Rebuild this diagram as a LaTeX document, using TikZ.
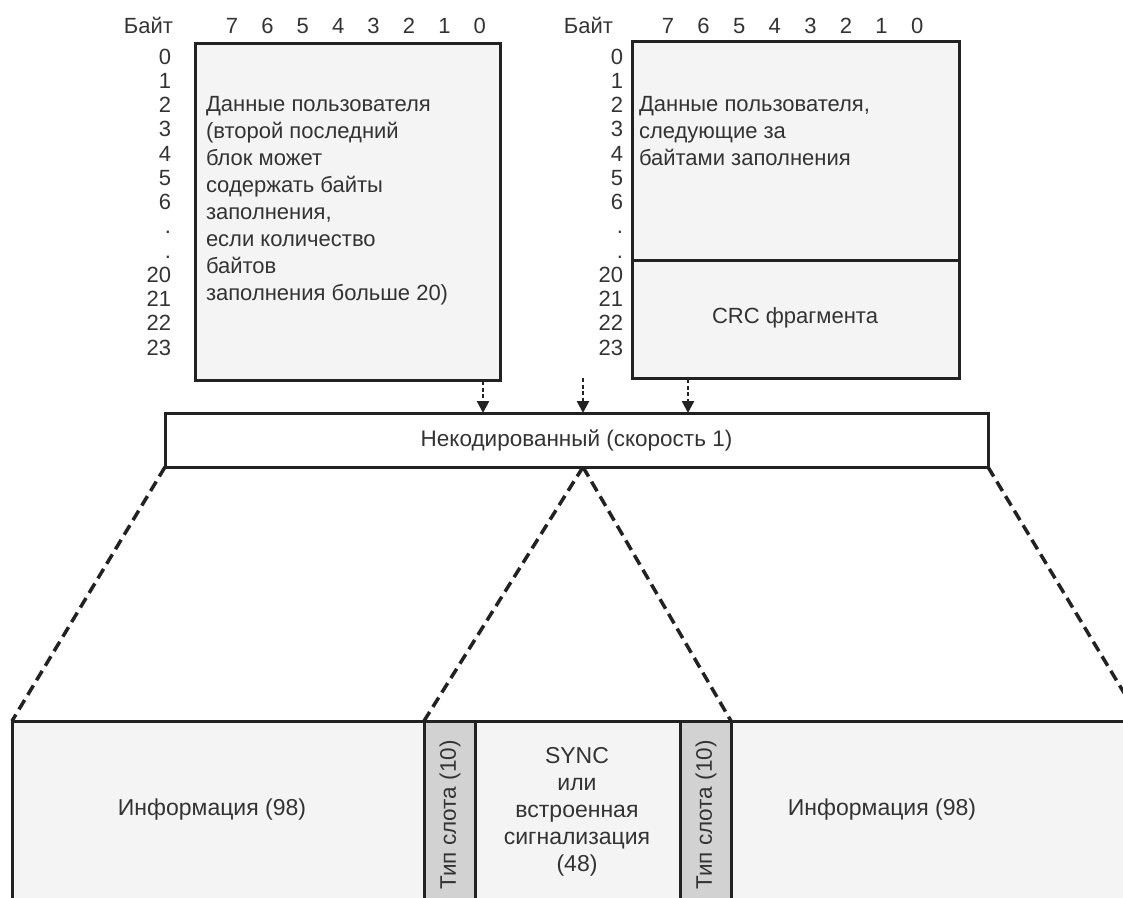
\documentclass[tikz,border=0pt]{standalone}
\usepackage{fontspec}
\setmainfont{Liberation Sans}
\usetikzlibrary{arrows.meta}
\definecolor{ink}{HTML}{222222}
\definecolor{txt}{HTML}{333333}
\definecolor{boxfill}{HTML}{F4F4F4}
\definecolor{slotfill}{HTML}{D2D2D2}
\tikzset{
  box/.style={draw=ink, line width=3pt, fill=boxfill, inner sep=0pt, outer sep=0pt, anchor=north west},
  slotbox/.style={box, fill=slotfill},
  plain/.style={inner sep=0pt, outer sep=0pt, text=txt, font=\fontsize{22}{27}\selectfont},
  big/.style={plain, font=\fontsize{23}{27}\selectfont},
  hdr/.style={plain, anchor=base},
  feed/.style={draw=ink, line width=2.6pt, dash pattern=on 4pt off 2.5pt, -{Triangle[length=12pt,width=12pt]}},
  fan/.style={draw=ink, line width=3.5pt, dash pattern=on 11pt off 6pt},
}
\begin{document}
\begin{tikzpicture}[x=1pt,y=-1pt]
\useasboundingbox (0,0) rectangle (1123,897);
\clip (0,0) rectangle (1123,897);
% ---- top left block
\node[box, minimum width=305pt, minimum height=337pt] (L) at (195,43) {};
\node[plain, anchor=base east] (Lb) at (173,33) {Байт};
\foreach \b [count=\k from 0] in {7,6,5,4,3,2,1,0}
  \node[hdr] (lbit\b) at (232+35.4*\k,33) {\b};
\node[plain, anchor=base east, align=right, font=\fontsize{22}{24.25}\selectfont] (Lrows) at (171,355)
  {0\\1\\2\\3\\4\\5\\6\\.\\.\\20\\21\\22\\23};
\node[plain, anchor=base west, align=left] (Ltext) at (206,300)
  {Данные пользователя\\(второй последний\\блок может\\содержать байты\\заполнения,\\если количество\\байтов\\заполнения больше 20)};
% ---- top right block
\node[box, minimum width=327pt, minimum height=219pt] (R) at (632,41) {};
\node[box, minimum width=327pt, minimum height=118pt] (C) at (632,260) {};
\node[plain, anchor=base east] (Rb) at (613,33) {Байт};
\foreach \b [count=\k from 0] in {7,6,5,4,3,2,1,0}
  \node[hdr] (rbit\b) at (668+35.6*\k,33) {\b};
\node[plain, anchor=base east, align=right, font=\fontsize{22}{24.25}\selectfont] (Rrows) at (623,355)
  {0\\1\\2\\3\\4\\5\\6\\.\\.\\20\\21\\22\\23};
\node[plain, anchor=base west, align=left] (Rtext) at (639,165)
  {Данные пользователя,\\следующие за\\байтами заполнения};
\node[plain] (crc) at (795,318) {CRC фрагмента};
% ---- middle box
\node[box, fill=white, minimum width=823pt, minimum height=54pt] (M) at (165,413) {};
\node[plain, font=\fontsize{22.5}{27}\selectfont] (Mtext) at (M.center) {Некодированный (скорость 1)};
% feed arrows
\coordinate (f1) at (483,381);
\coordinate (f2) at (583,378);
\coordinate (f3) at (688,379);
\draw[feed] (f1) -- (f1 |- M.north);
\draw[feed] (f2) -- (f2 |- M.north);
\draw[feed] (f3) -- (f3 |- M.north);
% ---- bottom row
\node[box, minimum width=412pt, minimum height=200pt] (I1) at (12,721) {};
\node[slotbox, minimum width=51pt, minimum height=200pt] (S1) at (424,721) {};
\node[box, minimum width=205pt, minimum height=200pt] (Y) at (475,721) {};
\node[slotbox, minimum width=51pt, minimum height=200pt] (S2) at (680,721) {};
\node[box, minimum width=420pt, minimum height=200pt] (I2) at (731,721) {};
\node[big] (I1t) at (212,810) {Информация (98)};
\node[big] (I2t) at (882,810) {Информация (98)};
\node[plain, rotate=90, font=\fontsize{22.5}{27}\selectfont] (S1t) at (450,815) {Тип слота (10)};
\node[plain, rotate=90, font=\fontsize{22.5}{27}\selectfont] (S2t) at (706,815) {Тип слота (10)};
\node[big, align=center] (Yt) at (577,812)
  {SYNC\\или\\встроенная\\сигнализация\\(48)};
% ---- fan lines
\coordinate (mc) at (583,467);
\coordinate (rend) at (1141,721);
\draw[fan] (M.south west) -- (I1.north west);
\draw[fan] (mc) -- (S1.north west);
\draw[fan] (mc) -- (S2.north east);
\draw[fan] (M.south east) -- (rend);
\end{tikzpicture}
\end{document}
